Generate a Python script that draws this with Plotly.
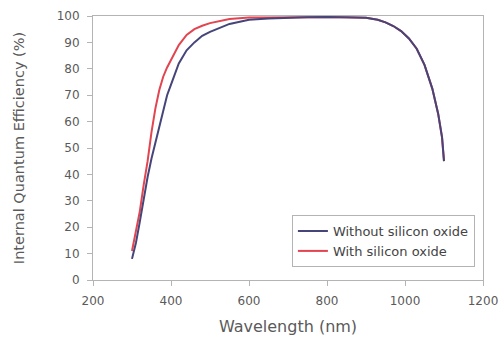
import plotly.graph_objects as go

wl = [300, 310, 320, 330, 340, 350, 360, 370, 380, 390, 400, 420, 440, 460, 480,
      500, 550, 600, 650, 700, 750, 800, 850, 900, 930, 950, 970, 990, 1010,
      1030, 1050, 1070, 1085, 1095, 1100]
without_oxide = [8, 14, 22, 31, 39, 46, 52, 58, 64, 70, 74, 82, 87, 90, 92.5,
                 94, 97, 98.6, 99.1, 99.4, 99.5, 99.6, 99.5, 99.3, 98.6, 97.6, 96.2,
                 94.3, 91.5, 87.6, 81.5, 72.5, 63, 54, 45]
with_oxide = [11, 18, 26, 36, 45, 56, 65, 72, 77, 80.5, 83.5, 89, 92.8, 95, 96.3,
              97.3, 98.9, 99.4, 99.4, 99.5, 99.5, 99.6, 99.5, 99.3, 98.6, 97.6, 96.2,
              94.3, 91.5, 87.6, 81.5, 72.5, 63, 54, 45]

x_ticks = [200, 400, 600, 800, 1000, 1200]
y_ticks = [0, 10, 20, 30, 40, 50, 60, 70, 80, 90, 100]

FONT = "DejaVu Sans, Verdana, sans-serif"
GREY = "#5a5a5a"

fig = go.Figure()
fig.add_trace(go.Scatter(x=wl, y=with_oxide, mode="lines", name="With silicon oxide",
                         line=dict(color="#e24450", width=2), legendrank=2))
fig.add_trace(go.Scatter(x=wl, y=without_oxide, mode="lines", name="Without silicon oxide",
                         line=dict(color="#45457a", width=2), legendrank=1))

axis_common = dict(showline=True, linecolor="#b4b4b4", linewidth=1, mirror=True,
                   showgrid=False, zeroline=False, ticks="outside", ticklen=5,
                   tickcolor="#b4b4b4", ticklabelstandoff=5, automargin=False,
                   tickfont=dict(family=FONT, size=12, color=GREY))

fig.update_xaxes(range=[200, 1200], tickvals=x_ticks, ticktext=[str(v) for v in x_ticks],
                 title=dict(text="Wavelength (nm)", font=dict(family=FONT, size=16, color=GREY), standoff=13),
                 **axis_common)
fig.update_yaxes(range=[0, 100], tickvals=y_ticks,
                 title=dict(text="Internal Quantum Efficiency (%)", font=dict(family=FONT, size=14.5, color=GREY), standoff=28),
                 **axis_common)

fig.update_layout(
    width=503, height=340,
    margin=dict(l=93, r=20, t=16, b=60),
    paper_bgcolor="white", plot_bgcolor="white",
    font=dict(family=FONT, color=GREY),
    legend=dict(x=0.51, y=0.246, xanchor="left", yanchor="top",
                bordercolor="#b4b4b4", borderwidth=1, bgcolor="white",
                font=dict(family=FONT, size=13, color="#444444"), itemwidth=30,
                tracegroupgap=0),
)

fig.write_html("out.html", config={"displayModeBar": False},
               post_script="document.body.style.margin='0';document.body.style.overflow='hidden';")
